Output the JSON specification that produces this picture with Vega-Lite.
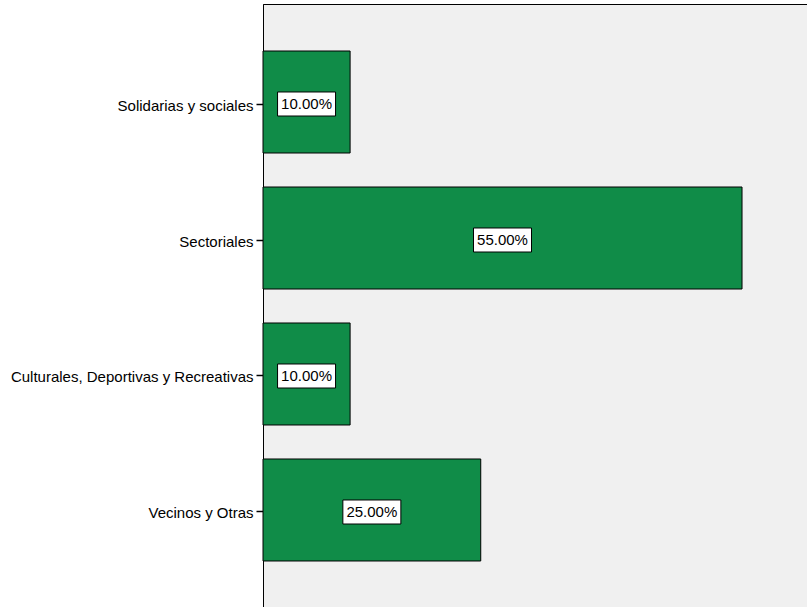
{
  "$schema": "https://vega.github.io/schema/vega-lite/v6.json",
  "width": 550,
  "height": 604,
  "autosize": {"type": "none"},
  "padding": {"left": 263, "top": 4, "right": 0, "bottom": 0},
  "background": "white",
  "config": {
    "view": {"fill": "#f0f0f0", "stroke": "#000000", "strokeWidth": 1},
    "font": "Liberation Sans"
  },
  "data": {
    "values": [
      {"tipo": "Solidarias y sociales", "pct": 10},
      {"tipo": "Sectoriales", "pct": 55},
      {"tipo": "Culturales, Deportivas y Recreativas", "pct": 10},
      {"tipo": "Vecinos y Otras", "pct": 25}
    ]
  },
  "transform": [
    {"calculate": "datum.pct / 2", "as": "mitad"},
    {"calculate": "format(datum.pct, '.2f') + '%'", "as": "etiqueta"}
  ],
  "encoding": {
    "y": {
      "field": "tipo",
      "type": "nominal",
      "sort": null,
      "scale": {"paddingInner": 0.25, "paddingOuter": 0.3456},
      "axis": {
        "title": null,
        "domainColor": "#000000",
        "tickColor": "#000000",
        "tickSize": 7,
        "tickWidth": 1.5,
        "tickOffset": 1.5,
        "labelPadding": 3,
        "labelFontSize": 15,
        "labelColor": "#000000",
        "labelFont": "Liberation Sans",
        "labelLimit": 400,
        "labelOffset": 1.5
      }
    }
  },
  "layer": [
    {
      "mark": {"type": "bar", "fill": "#108c48", "stroke": "#000000", "strokeWidth": 1},
      "encoding": {
        "x": {
          "field": "pct",
          "type": "quantitative",
          "scale": {"domain": [0, 63.15], "nice": false},
          "axis": null
        }
      }
    },
    {
      "mark": {
        "type": "point",
        "shape": "M-1,-0.414H1V0.414H-1Z",
        "size": 3364,
        "filled": true,
        "fill": "#ffffff",
        "stroke": "#000000",
        "strokeWidth": 1,
        "opacity": 1,
        "yOffset": 2
      },
      "encoding": {
        "x": {"field": "mitad", "type": "quantitative"}
      }
    },
    {
      "mark": {
        "type": "text",
        "fontSize": 15,
        "color": "#000000",
        "align": "center",
        "baseline": "middle",
        "font": "Liberation Sans",
        "dy": 2
      },
      "encoding": {
        "x": {"field": "mitad", "type": "quantitative"},
        "text": {"field": "etiqueta", "type": "nominal"}
      }
    }
  ]
}
